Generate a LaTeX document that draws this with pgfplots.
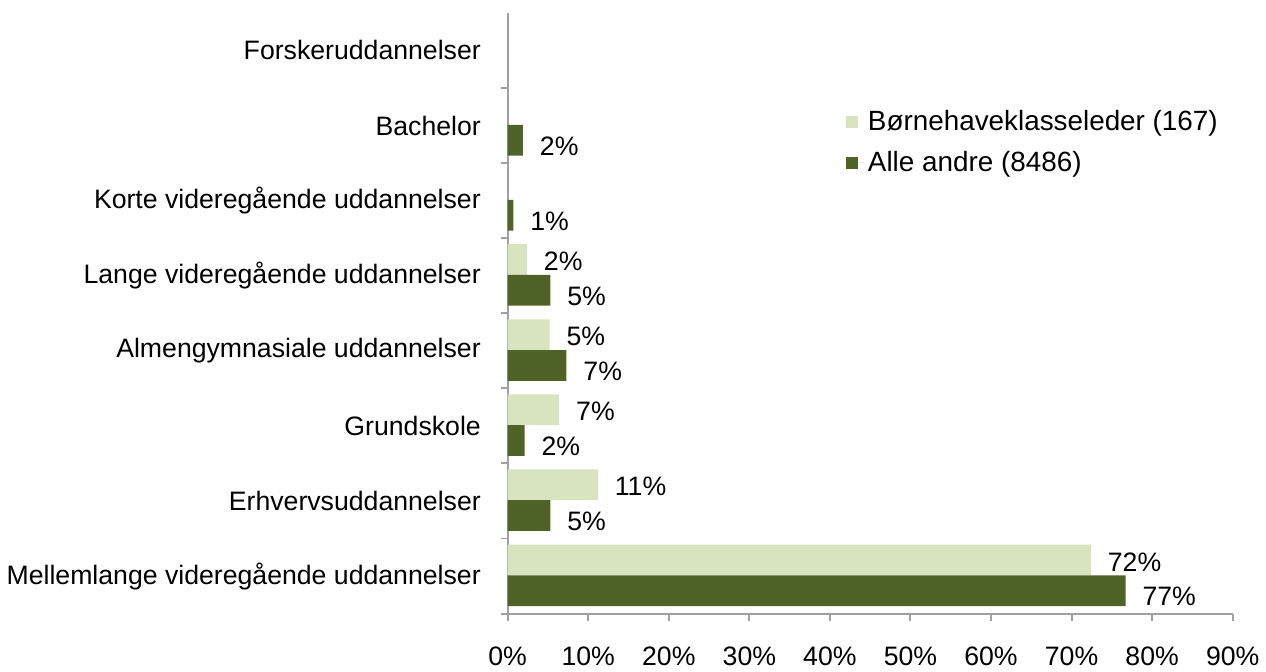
\documentclass[border=0pt]{standalone}
\usepackage{pgfplots}
\pgfplotsset{compat=1.18}
\usepackage{fontspec}
\setmainfont{Liberation Sans}

\definecolor{lightgreen}{HTML}{D7E4BD}
\definecolor{darkgreen}{HTML}{4F6228}
\definecolor{axisgray}{HTML}{A0A0A0}

\newcommand{\chartfont}{\fontsize{13.4}{16}\selectfont}

\begin{document}
\begin{tikzpicture}
\begin{axis}[
  name=ax,
  scale only axis,
  width=364.5pt, height=302pt,
  xbar, bar width=0.41,
  xmin=0, xmax=90,
  ymin=-0.5, ymax=7.5,
  xtick={0,10,...,90},
  xticklabel={\pgfmathprintnumber{\tick}\%},
  ytick={-0.5,0.5,1.5,2.5,3.5,4.5,5.5,6.5},
  yticklabels={},
  extra y ticks={0,1,2,3,4,5,6,7},
  extra y tick labels={Mellemlange videregående uddannelser,
    Erhvervsuddannelser\ ,Grundskole,Almengymnasiale uddannelser\ ,
    Lange videregående uddannelser,Korte videregående uddannelser,
    Bachelor,Forskeruddannelser},
  extra y tick style={major tick length=0pt,
    yticklabel style={xshift=-10pt}},
  axis x line*=bottom, axis y line*=left,
  axis line style={axisgray, line width=1pt, -},
  tick style={axisgray, line width=1pt},
  tick align=outside, major tick length=3.5pt,
  x tick label style={yshift=-9.5pt},
  /pgf/number format/assume math mode=true,
  font=\chartfont,
  point meta=explicit symbolic,
  nodes near coords,
  nodes near coords style={font=\chartfont, anchor=west, xshift=5pt, yshift=-1pt},
  legend style={at={(0.458,0.852)}, anchor=north west, draw=none, fill=none,
    font=\fontsize{14}{16}\selectfont, row sep=5pt},
  legend cell align=left,
  legend image code/.code={\fill[#1] (0pt,-3pt) rectangle (6pt,3pt);
    \path (0pt,0pt) -- (9pt,0pt);},
]
\addplot[fill=lightgreen, draw=none, bar shift=0.215]
  coordinates {(72.4,0) [72\%] (11.2,1) [11\%] (6.4,2) [7\%] (5.2,3) [5\%] (2.4,4) [2\%]};
\addlegendentry{Børnehaveklasseleder (167)}
\addplot[fill=darkgreen, draw=none, bar shift=-0.195,
  every node near coord/.append style={yshift=-2pt}]
  coordinates {(76.7,0) [77\%] (5.3,1) [5\%] (2.1,2) [2\%] (7.3,3) [7\%] (5.3,4) [5\%] (0.7,5) [1\%] (1.9,6) [2\%]};
\addlegendentry{Alle andre (8486)}
\end{axis}
\path ([yshift=6.5pt]ax.north west);
\end{tikzpicture}
\end{document}
